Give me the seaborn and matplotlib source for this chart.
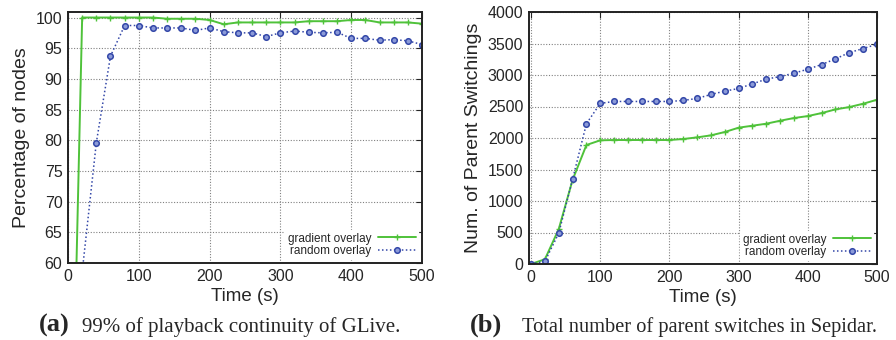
import pandas as pd
import matplotlib.pyplot as plt
import seaborn as sns

# Data
time = [0, 20, 40, 60, 80, 100, 120, 140, 160, 180, 200, 220, 240, 260, 280,
        300, 320, 340, 360, 380, 400, 420, 440, 460, 480, 500]

pct_gradient = [0, 100, 100, 100, 100, 100, 100, 99.8, 99.8, 99.8, 99.6, 98.9, 99.2,
                99.2, 99.2, 99.2, 99.2, 99.4, 99.4, 99.4, 99.6, 99.6, 99.2, 99.2, 99.2, 99.0]
pct_random = [0, 58.5, 79.6, 93.7, 98.7, 98.7, 98.3, 98.3, 98.3, 97.9, 98.3, 97.7, 97.5,
              97.5, 96.9, 97.5, 97.8, 97.6, 97.5, 97.6, 96.6, 96.6, 96.3, 96.4, 96.2, 95.6]

sw_gradient = [0, 75, 554, 1335, 1889, 1963, 1968, 1968, 1968, 1968, 1968, 1984, 2010,
               2042, 2095, 2164, 2195, 2227, 2274, 2317, 2348, 2396, 2454, 2491, 2544, 2607]
sw_random = [0, 42, 490, 1345, 2227, 2549, 2580, 2580, 2580, 2580, 2580, 2596, 2628,
             2691, 2744, 2786, 2860, 2934, 2976, 3029, 3092, 3166, 3256, 3356, 3420, 3488]

series_names = ['gradient overlay', 'random overlay']

sns.set_style("white")
plt.rcParams['font.family'] = ['Liberation Sans', 'DejaVu Sans']

GREEN = '#4fc23a'
BLUE = '#3347a8'

fig = plt.figure(figsize=(8.96, 3.4), dpi=100)
ax1 = fig.add_axes([68 / 896, 1 - 263 / 340, 354 / 896, 251 / 340])
ax2 = fig.add_axes([529 / 896, 1 - 264 / 340, 348 / 896, 252 / 340])


def draw(ax, grad, rand):
    df = pd.DataFrame({'t': time, 'g': grad, 'r': rand})
    sns.lineplot(data=df, x='t', y='g', ax=ax, color=GREEN, lw=1.4, marker='+',
                 markersize=4.5, mew=1.0, markeredgecolor=GREEN,
                 label=series_names[0])
    sns.lineplot(data=df, x='t', y='r', ax=ax, color=BLUE, lw=1.1,
                 linestyle=(0, (1, 1.6)), marker='o', markersize=4,
                 markerfacecolor='#8b9ad8', markeredgecolor=BLUE, mew=1.1,
                 label=series_names[1])
    ax.grid(True, color='#808080', linestyle=(0, (1, 1.5)), lw=0.8)
    ax.tick_params(direction='in', top=True, right=True, length=4, width=0.8,
                   labelsize=11.5, pad=4)
    for s in ax.spines.values():
        s.set_linewidth(1.4)
        s.set_color('#222222')
    ax.set_xlabel('Time (s)', fontsize=13.5, labelpad=3)
    leg = ax.legend(loc='lower right', fontsize=8.5, markerfirst=False,
                    frameon=True, fancybox=False, borderpad=0.2,
                    labelspacing=0.05, handlelength=3.2, handletextpad=0.6,
                    borderaxespad=0.3)
    leg.get_frame().set_edgecolor('white')
    leg.get_frame().set_facecolor('white')
    leg.get_frame().set_alpha(1)


draw(ax1, pct_gradient, pct_random)
ax1.set_xlim(0, 500)
ax1.set_ylim(60, 100.9)
ax1.set_yticks(range(60, 101, 5))
ax1.set_xticks(range(0, 501, 100))
ax1.set_ylabel('Percentage of nodes', fontsize=14, labelpad=4)

draw(ax2, sw_gradient, sw_random)
ax2.set_xlim(-3, 500)
ax2.set_ylim(0, 4000)
ax2.set_yticks(range(0, 4001, 500))
ax2.set_xticks(range(0, 501, 100))
ax2.set_ylabel('Num. of Parent Switchings', fontsize=14, labelpad=4)

# Sub-figure captions
serif = ['Liberation Serif', 'DejaVu Serif']
base = 1 - 332 / 340
fig.text(39 / 896, base, '(a)', fontsize=19, fontweight='bold',
         family=serif, va='baseline')
fig.text(82 / 896, base, '99% of playback continuity of GLive.',
         fontsize=15, family=serif, va='baseline')
fig.text(470 / 896, base, '(b)', fontsize=19, fontweight='bold',
         family=serif, va='baseline')
fig.text(522 / 896, base, 'Total number of parent switches in Sepidar.',
         fontsize=14.7, family=serif, va='baseline')

plt.savefig('out.png', dpi=100)
